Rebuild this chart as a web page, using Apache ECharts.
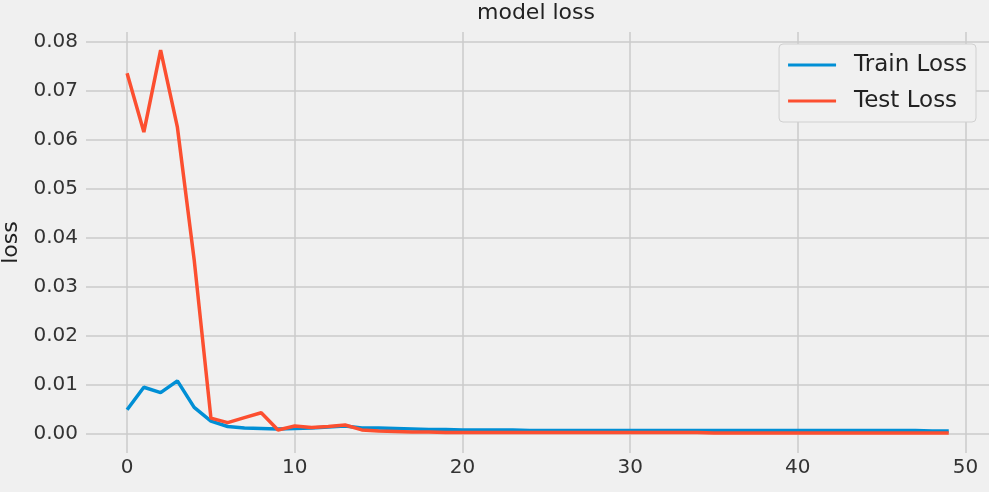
<!DOCTYPE html>
<html>
<head>
<meta charset="utf-8">
<script src="https://cdn.jsdelivr.net/npm/echarts@6/dist/echarts.min.js"></script>
<style>
  html, body { margin: 0; padding: 0; background: #f0f0f0; }
</style>
</head>
<body>
<div id="main" style="width: 989px;height:492px;"></div>
<script>
// loss per epoch
const trainLoss = [
    0.0049, 0.0095, 0.0084, 0.0108, 0.0054, 0.0026, 0.0015, 0.0012, 0.0011, 0.0010,
    0.0011, 0.0012, 0.0014, 0.0016, 0.0012, 0.0012, 0.0011, 0.0010, 0.0009, 0.0009,
    0.0008, 0.0008, 0.0008, 0.0008, 0.0007, 0.0007, 0.0007, 0.0007, 0.0007, 0.0007,
    0.0007, 0.0007, 0.0007, 0.0007, 0.0007, 0.0007, 0.0007, 0.0007, 0.0007, 0.0007,
    0.0007, 0.0007, 0.0007, 0.0007, 0.0007, 0.0007, 0.0007, 0.0007, 0.0006, 0.0006
];
const testLoss = [
    0.0735, 0.0615, 0.0782, 0.0625, 0.0355, 0.0032, 0.0023, 0.0033, 0.0043, 0.0008,
    0.0016, 0.0013, 0.0015, 0.0018, 0.0008, 0.0006, 0.0005, 0.0004, 0.0004, 0.0003,
    0.0003, 0.0003, 0.0003, 0.0003, 0.0003, 0.0003, 0.0003, 0.0003, 0.0003, 0.0003,
    0.0003, 0.0003, 0.0003, 0.0003, 0.0003, 0.0002, 0.0002, 0.0002, 0.0002, 0.0002,
    0.0002, 0.0002, 0.0002, 0.0002, 0.0002, 0.0002, 0.0002, 0.0002, 0.0002, 0.0002
];
const xTicks = [0, 10, 20, 30, 40, 50];
const yTicks = [0, 0.01, 0.02, 0.03, 0.04, 0.05, 0.06, 0.07, 0.08];

const epochs = trainLoss.map((v, i) => i);
const font = 'DejaVu Sans';

var myChart = echarts.init(document.getElementById('main'));

const option = {
    backgroundColor: '#f0f0f0',
    animation: false,
    title: {
        text: 'model loss',
        left: 477,
        top: 2,
        padding: 0,
        textStyle: { fontFamily: font, fontSize: 22, fontWeight: 'normal', color: '#222' }
    },
    legend: {
        orient: 'vertical',
        right: 13,
        top: 44,
        padding: [8, 9, 8, 9],
        icon: 'rect',
        itemWidth: 48,
        itemHeight: 3,
        itemGap: 10,
        backgroundColor: '#f0f0f0',
        borderColor: '#d0d0d0',
        borderWidth: 1,
        borderRadius: 4,
        textStyle: { fontFamily: font, fontSize: 23, color: '#222', lineHeight: 26, padding: [0, 0, 0, 13] },
        data: ['Train Loss', 'Test Loss']
    },
    grid: { left: 86, right: 0, top: 32, bottom: 39, outerBoundsMode: 'none' },
    xAxis: {
        type: 'value',
        min: -2.45,
        max: 51.4,
        axisLine: { show: false },
        axisTick: { show: false, customValues: xTicks },
        axisLabel: { customValues: xTicks, fontFamily: font, fontSize: 20, color: '#333', margin: 5 },
        splitLine: { show: true, lineStyle: { color: '#cbcbcb', width: 1.5 } }
    },
    yAxis: {
        type: 'value',
        min: -0.0039,
        max: 0.0819,
        name: 'loss',
        nameLocation: 'middle',
        nameGap: 55,
        nameTextStyle: { fontFamily: font, fontSize: 22, color: '#222' },
        axisLine: { show: false },
        axisTick: { show: false, customValues: yTicks },
        axisLabel: {
            customValues: yTicks,
            fontFamily: font, fontSize: 20, color: '#333', margin: 8,
            formatter: v => v.toFixed(2)
        },
        splitLine: { show: true, lineStyle: { color: '#cbcbcb', width: 1.5 } }
    },
    series: [
        {
            name: 'Train Loss',
            type: 'line',
            symbol: 'none',
            color: '#008fd5',
            lineStyle: { width: 3.5 },
            data: epochs.map(i => [i, trainLoss[i]])
        },
        {
            name: 'Test Loss',
            type: 'line',
            symbol: 'none',
            color: '#fc4f30',
            lineStyle: { width: 3.5 },
            data: epochs.map(i => [i, testLoss[i]])
        }
    ]
};

myChart.setOption(option);
</script>
</body>
</html>
